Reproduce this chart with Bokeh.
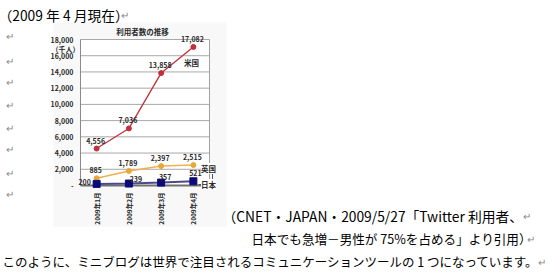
from math import pi
from bokeh.plotting import figure
from bokeh.models import Range1d, Label, LabelSet, ColumnDataSource, LinearScale
from bokeh.embed import file_html
from bokeh.resources import INLINE
from bokeh.core.properties import value

# ---- data ----
months = ["2009年1月", "2009年2月", "2009年3月", "2009年4月"]
us_users = [4556, 7036, 13858, 17082]
uk_users = [885, 1789, 2397, 2515]
jp_users = [200, 239, 357, 521]
y_ticks = [0, 2000, 4000, 6000, 8000, 10000, 12000, 14000, 16000, 18000]
series_names = ["米国", "英国", "日本"]
chart_title = "利用者数の推移"
unit_label = "（千人）"
doc_head = "（2009 年 4 月現在）"
doc_src1 = "（CNET・JAPAN・2009/5/27「Twitter 利用者、"
doc_src2 = "日本でも急増－男性が 75%を占める」より引用）"
doc_body = "このように、ミニブログは世界で注目されるコミュニケーションツールの 1 つになっています。"
para_mark = "↵"

W, H = 556, 272
FL, FR, FT, FB = 80, 209, 39, 185          # chart plot-area box on the page (px)
JP_FONT = "Noto Sans CJK JP"
n = len(months)
ymax = max(y_ticks)
xpos = [i + 0.5 for i in range(n)]          # centre of each category slot

# page figure: frame = whole page, main ranges = page pixels (top-left origin)
p = figure(width=W, height=H, x_range=Range1d(0, W), y_range=Range1d(H, 0),
           x_axis_type=None, y_axis_type=None, output_backend="svg",
           toolbar_location=None, min_border=0, outline_line_color=None,
           background_fill_color="white", border_fill_color="white")

# chart ranges: map category slots 0..n onto FL..FR and 0..ymax onto FB..FT
kx = n / (FR - FL)
ky = ymax / (FB - FT)
p.extra_x_ranges = {"cx": Range1d(-FL * kx, (W - FL) * kx)}
p.extra_y_ranges = {"cy": Range1d((FB - H) * ky, FB * ky)}
p.extra_x_scales = {"cx": LinearScale()}
p.extra_y_scales = {"cy": LinearScale()}
C = dict(x_range_name="cx", y_range_name="cy")

# faint chart picture background (page px)
p.quad(left=53, right=226, top=22, bottom=226, fill_color="#f7f8f7", line_color=None)
# plot area
p.quad(left=0, right=n, bottom=0, top=ymax, fill_color="white", line_color=None, **C)
# gridlines
p.segment(x0=[0] * len(y_ticks), x1=[n] * len(y_ticks), y0=y_ticks, y1=y_ticks,
          line_color="#a8a8a8", line_width=1, **C)
# frame sides + axes
p.segment(x0=[n], x1=[n], y0=[0], y1=[ymax], line_color="#a0a0a0", line_width=1, **C)
p.segment(x0=[0], x1=[0], y0=[0], y1=[ymax], line_color="#8a8a8a", line_width=1, **C)
p.segment(x0=[0], x1=[n], y0=[0], y1=[0], line_color="#707070", line_width=2, **C)

lbl_kw = dict(text_font=value(JP_FONT), text_font_size="7px", text_font_style="bold",
              text_color="#2a2a2a", text_baseline="middle")

# y tick labels
ytxt = ["-" if t == 0 else f"{t:,}" for t in y_ticks]
ysrc = ColumnDataSource(dict(x=[0] * len(y_ticks), y=y_ticks, t=ytxt))
p.add_layout(LabelSet(x="x", y="y", text="t", source=ysrc, x_offset=-7, text_align="right",
                      **C, **lbl_kw))
# x tick labels (vertical)
xsrc = ColumnDataSource(dict(x=xpos, y=[0] * n, t=months))
p.add_layout(LabelSet(x="x", y="y", text="t", source=xsrc, y_offset=-7, angle=pi / 2,
                      text_align="right", x_range_name="cx", y_range_name="cy",
                      text_font=value(JP_FONT), text_font_size="6.5px", text_font_style="bold",
                      text_color="#2a2a2a", text_baseline="middle"))

# series
src = ColumnDataSource(dict(m=xpos, us=us_users, uk=uk_users, jp=jp_users,
                            us_t=[f"{v:,}" for v in us_users],
                            uk_t=[f"{v:,}" for v in uk_users]))
p.line("m", "us", source=src, line_color="#c0303a", line_width=1.3, **C)
p.scatter("m", "us", source=src, marker="circle", size=5, fill_color="#c0303a",
          line_color="#c0303a", **C)
p.line("m", "uk", source=src, line_color="#f0b050", line_width=1.5, **C)
p.scatter("m", "uk", source=src, marker="circle", size=5, fill_color="#e8a838",
          line_color="#e8a838", **C)
p.line("m", "jp", source=src, line_color="#4a4a8a", line_width=2, **C)
p.scatter("m", "jp", source=src, marker="square", size=7, fill_color="#0a0a78",
          line_color="#0a0a78", **C)

p.add_layout(LabelSet(x="m", y="us", text="us_t", source=src, x_offset=-1, y_offset=8,
                      text_align="center", **C, **lbl_kw))
p.add_layout(LabelSet(x="m", y="uk", text="uk_t", source=src, x_offset=-1, y_offset=8,
                      text_align="center", **C, **lbl_kw))
src_jp = ColumnDataSource(dict(m=xpos, jp=jp_users, t=[f"{v:,}" for v in jp_users],
                               dx=[-12, 7, 4, 2], dy=[2, 5, 6, 8]))
p.add_layout(LabelSet(x="m", y="jp", text="t", source=src_jp, x_offset="dx", y_offset="dy",
                      text_align="center", **C, **lbl_kw))

def doc_label(x, y, text, size="13px", color="#000000", align="left", bold=False, bg=None):
    p.add_layout(Label(x=x, y=y, text=text,
                       text_font=JP_FONT, text_font_size=size, text_color=color,
                       text_align=align, text_baseline="middle",
                       text_font_style="bold" if bold else "normal",
                       background_fill_color=bg))

# chart texts
doc_label(142, 31, chart_title, size="7.5px", color="#2a2a2a", align="center", bold=True)
doc_label(65, 48, unit_label, size="7px", color="#2a2a2a", align="center", bold=True)
doc_label(191, 62, series_names[0], size="7.5px", color="#2a2a2a", align="center", bold=True)
doc_label(208, 168, series_names[1], size="7.5px", color="#2a2a2a", align="center", bold=True, bg="white")
doc_label(208, 184, series_names[2], size="7.5px", color="#2a2a2a", align="center", bold=True, bg="white")
p.segment(x0=[212, 198], x1=[212, 203], y0=[172, 184], y1=[179, 184],
          line_color="#555555", line_width=1)

# page texts
doc_label(-2, 14, doc_head, size="13.8px")
doc_label(120, 14, para_mark, size="10px", color="#888888")
for yy in [35, 60, 81, 104, 127, 148, 172, 193]:
    doc_label(5, yy, para_mark, size="10px", color="#888888")
doc_label(222, 215, doc_src1, size="13.8px")
doc_label(522, 215, para_mark, size="10px", color="#888888")
doc_label(251, 238, doc_src2, size="12.6px")
doc_label(526, 238, para_mark, size="10px", color="#888888")
doc_label(2, 261, doc_body, size="12.5px")
doc_label(537, 261, para_mark, size="10px", color="#888888")

open("out.html", "w").write(file_html(p, INLINE))
